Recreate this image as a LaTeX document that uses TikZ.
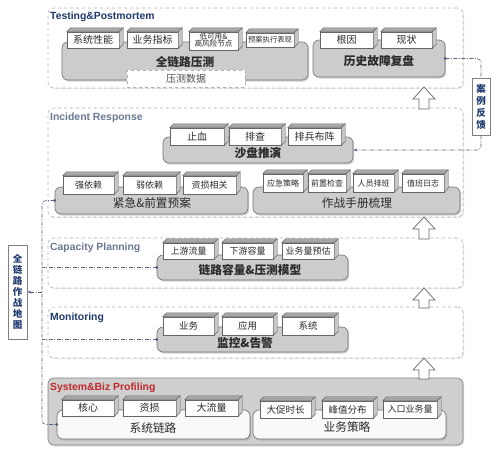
\documentclass[tikz,border=0pt]{standalone}
\usepackage{fontspec}
\setmainfont{Liberation Sans}
\newfontfamily\cjk{Noto Sans CJK SC}
\usetikzlibrary{shadows,arrows.meta,calc}
\definecolor{tblue}{HTML}{1F3A6E}
\definecolor{tgrayblue}{HTML}{6B7894}
\definecolor{tred}{HTML}{C0282D}
\definecolor{txt}{HTML}{2A2A2A}
\definecolor{conncol}{HTML}{55627F}
\tikzset{
 panel/.style={draw=gray!60, dashed, rounded corners=6pt, fill=white, line width=0.6pt,
   drop shadow={opacity=0.18,shadow xshift=1.2pt,shadow yshift=-1.2pt}},
 syspanel/.style={draw=black!50, rounded corners=6pt, fill=gray!38, line width=0.6pt,
   drop shadow={opacity=0.25,shadow xshift=1.2pt,shadow yshift=-1.5pt}},
 grayb/.style={draw=black!55, fill=gray!40, rounded corners=6pt, line width=0.6pt,
   drop shadow={opacity=0.35,shadow xshift=1.2pt,shadow yshift=-1.6pt}},
 whiteb/.style={draw=black!55, fill=gray!5, rounded corners=6pt, line width=0.6pt,
   drop shadow={opacity=0.35,shadow xshift=1.2pt,shadow yshift=-1.6pt}},
 sub/.style={draw=black!60, fill=white, inner sep=0pt, line width=0.5pt, text=txt},
 topf/.style={draw=black!60, fill=gray!70, line width=0.4pt},
 rightf/.style={draw=black!60, fill=gray!45, line width=0.4pt},
 ttl/.style={anchor=west, font=\bfseries\fontsize{10.4}{12}\selectfont, inner sep=0pt},
 big/.style={font=\cjk\fontsize{11.7}{13}\selectfont, text=txt, inner sep=0pt},
 conn/.style={draw=conncol, line width=0.6pt, dash pattern=on 4pt off 1.5pt on 1pt off 1.5pt},
 dotc/.style={fill=conncol},
 blockarr/.style={draw=black!60, fill=white, line width=0.7pt},
 side/.style={draw=black!50, fill=white, line width=0.5pt, inner sep=0pt, text=tblue,
   align=center, drop shadow={opacity=0.3,shadow xshift=1pt,shadow yshift=-1pt}},
}
% rounded/plain box node: name, style, x1, y1, x2, y2
\newcommand\rbox[6]{\node[#2, inner sep=0pt, minimum width={(#5-#3)*1pt},
  minimum height={(#6-#4)*1pt}] (#1) at ({(#3+#5)/2},{(#4+#6)/2}) {};}
% 3D sub box: name, x1, y1, x2, y2, text
\newcommand\cubebox[6]{%
 \node[sub, minimum width={(#4-#2)*1pt}, minimum height={(#5-#3)*1pt}] (#1)
   at ({(#2+#4)/2},{(#3+#5)/2}) {#6};
 \filldraw[topf] (#1.north west) -- ++(4,-4) -- ([shift={(4,-4)}]#1.north east)
   -- (#1.north east) -- cycle;
 \filldraw[rightf] (#1.north east) -- ++(4,-4) -- ([shift={(4,-4)}]#1.south east)
   -- (#1.south east) -- cycle;}
% block arrow: x, tip y, base y
\newcommand\uparr[3]{\filldraw[blockarr] (#1,#2) -- (#1+11,#2+12) -- (#1+5,#2+12)
  -- (#1+5,#3) -- (#1-5,#3) -- (#1-5,#2+12) -- (#1-11,#2+12) -- cycle;}
\newcommand\cs[1]{\cjk\fontsize{#1}{#1}\selectfont}
\begin{document}
\begin{tikzpicture}[x=1pt,y=-1pt]
\useasboundingbox (0,0) rectangle (500,453);
% panels
\rbox{pT}{panel}{48}{8}{463}{88}
\rbox{pI}{panel}{48}{108}{463}{217}
\rbox{pC}{panel}{48}{238}{463}{288}
\rbox{pM}{panel}{48}{307}{463}{358}
\rbox{pS}{syspanel}{48}{378}{463}{445}
% titles
\node[ttl, text=tblue] (tT) at (50,17) {Testing\&Postmortem};
\node[ttl, text=tgrayblue] (tI) at (50,118) {Incident Response};
\node[ttl, text=tgrayblue] (tC) at (50,248) {Capacity Planning};
\node[ttl, text=tblue] (tM) at (50,318) {Monitoring};
\node[ttl, text=tred] (tS) at (50,388) {System\&Biz Profiling};
% ---- Testing
\rbox{qlyc}{grayb}{62}{42}{308}{80}
\rbox{lsgz}{grayb}{313}{40}{445}{77}
\cubebox{s1}{67}{32}{119}{48}{\cs{10}系统性能}
\cubebox{s2}{127}{32}{178}{48}{\cs{10}业务指标}
\cubebox{s3}{189}{32}{238}{50}{\cs{7.6}\begin{tabular}{@{}c@{}}低可用\&\\[-1.2pt]高风险节点\end{tabular}}
\cubebox{s4}{246}{33}{294}{47}{\cs{7.3}预案执行表现}
\cubebox{s5}{320}{32}{373}{48}{\cs{10}根因}
\cubebox{s6}{381}{32}{432}{48}{\cs{10}现状}
\node[big] (lqlyc) at (185,62) {\bfseries 全链路压测};
\node[big] (llsgz) at (379,61) {\bfseries 历史故障复盘};
\node[draw=gray!60, dashed, fill=white, minimum width=118pt, minimum height=17pt,
  inner sep=0pt, font=\cs{10}, text=black!70] (yccs) at (186,78.5) {压测数据};
% ---- Incident
\rbox{spty}{grayb}{163}{137}{353}{163}
\rbox{jjya}{grayb}{55}{187}{248}{214}
\rbox{zzsc}{grayb}{253}{187}{460}{214}
\cubebox{i1}{170}{128}{224}{145}{\cs{10}止血}
\cubebox{i2}{229}{128}{281}{145}{\cs{10}排查}
\cubebox{i3}{288}{128}{341}{145}{\cs{10}排兵布阵}
\cubebox{i4}{63}{176}{114}{194}{\cs{9}强依赖}
\cubebox{i5}{123}{176}{176}{194}{\cs{9}弱依赖}
\cubebox{i6}{183}{176}{236}{194}{\cs{9}资损相关}
\cubebox{i7}{263}{174}{303}{192}{\cs{8}应急策略}
\cubebox{i8}{308}{174}{346}{192}{\cs{8}前置检查}
\cubebox{i9}{353}{174}{394}{192}{\cs{8}人员排班}
\cubebox{i10}{402}{174}{444}{192}{\cs{8}值班日志}
\node[big] (lspty) at (258,153) {\bfseries 沙盘推演};
\node[big] (ljjya) at (152,203) {紧急\&前置预案};
\node[big] (lzzsc) at (357,203) {作战手册梳理};
% ---- Capacity
\rbox{llrl}{grayb}{157}{255}{348}{280}
\cubebox{c1}{163}{243}{214}{259}{\cs{9}上游流量}
\cubebox{c2}{222}{243}{273}{259}{\cs{9}下游容量}
\cubebox{c3}{282}{243}{334}{259}{\cs{9}业务量预估}
\node[big] (lllrl) at (250,270) {\bfseries 链路容量\&压测模型};
% ---- Monitoring
\rbox{jkgj}{grayb}{157}{327}{348}{352}
\cubebox{m1}{163}{317}{214}{335}{\cs{9.5}业务}
\cubebox{m2}{222}{317}{273}{335}{\cs{9.5}应用}
\cubebox{m3}{282}{317}{334}{335}{\cs{9.5}系统}
\node[big] (ljkgj) at (245,343) {\bfseries 监控\&告警};
% ---- System
\rbox{xtll}{whiteb}{57}{410}{250}{439}
\rbox{ywcl}{whiteb}{253}{410}{446}{439}
\cubebox{y1}{62}{400}{114}{416}{\cs{10}核心}
\cubebox{y2}{123}{400}{176}{416}{\cs{10}资损}
\cubebox{y3}{185}{400}{238}{416}{\cs{10}大流量}
\cubebox{y4}{260}{401}{311}{418}{\cs{9.5}大促时长}
\cubebox{y5}{322}{401}{373}{418}{\cs{9.5}峰值分布}
\cubebox{y6}{383}{401}{437}{418}{\cs{9}入口业务量}
\node[big] (lxtll) at (153,428) {系统链路};
\node[big] (lywcl) at (347,427) {业务策略};
% ---- side boxes
\node[side, minimum width=19pt, minimum height=94pt, font=\cs{9.5}\bfseries] (map) at (17.5,292)
  {全\\[1.5pt]链\\[1.5pt]路\\[1.5pt]作\\[1.5pt]战\\[1.5pt]地\\[1.5pt]图};
\node[side, minimum width=18pt, minimum height=57pt, font=\cs{9.5}\bfseries] (fb) at (481,106.5)
  {案\\[2.5pt]例\\[2.5pt]反\\[2.5pt]馈};
% ---- connectors
\coordinate (vl) at (42,0);
\draw[conn, rounded corners=4] (jjya.west) -- (jjya.west -| vl) -- (xtll.west -| vl) -- (xtll.west);
\draw[conn] (llrl.west) -- (llrl.west -| vl);
\draw[conn] (jkgj.west) -- (jkgj.west -| vl);
\draw[conn, -{Stealth[length=4pt,width=3pt]}] (map.east -| vl) -- (map.east);
\foreach \n in {jjya,llrl,jkgj,xtll} \fill[dotc] (\n.west) circle (1.6);
\draw[conn, rounded corners=4] (lsgz.east) -| (fb.north);
\draw[conn, rounded corners=4, -{Stealth[length=4pt,width=3pt]}] (fb.south) |- (spty.east);
\fill[dotc] (lsgz.east) circle (1.6);
% ---- block arrows
\uparr{424}{87}{109}
\uparr{424}{217}{239}
\uparr{424}{288}{308}
\uparr{424}{358}{379}
\end{tikzpicture}
\end{document}
